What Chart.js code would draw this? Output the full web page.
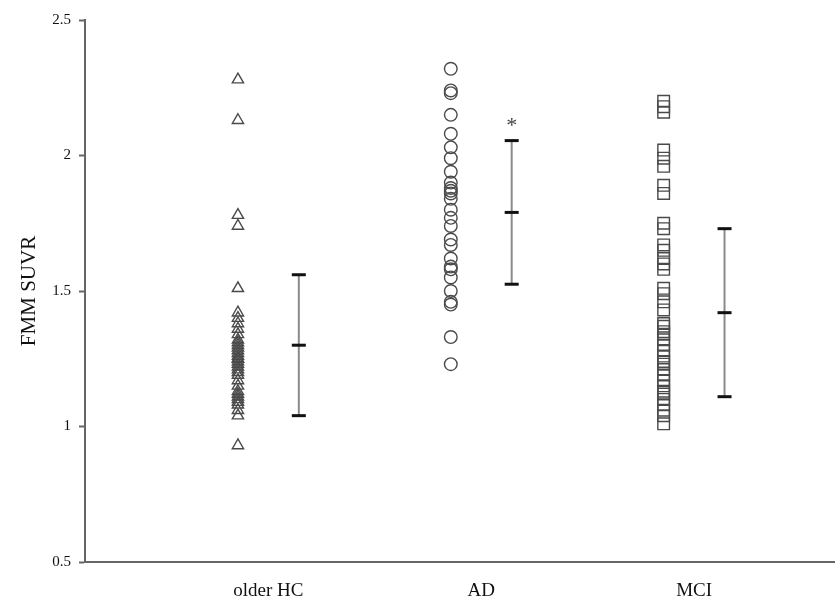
<!DOCTYPE html>
<html>
<head>
<meta charset="utf-8">
<script src="https://cdn.jsdelivr.net/npm/chart.js@4.4.0/dist/chart.umd.js"></script>
<style>
    html, body { margin: 0; padding: 0; background: #fff; }
    #wrap { width: 835px; height: 598px; }
</style>
</head>
<body>
<div id="wrap"><canvas id="chart"></canvas></div>
<script>
// categories and their position on the x axis
const categories = ['older HC', 'AD', 'MCI'];
const categoryX = [1, 2, 3];

// FMM SUVR of each subject
const hcValues = [2.28, 2.13, 1.78, 1.74, 1.51, 1.42, 1.40, 1.38, 1.36, 1.34, 1.32, 1.31, 1.30, 1.29,
    1.28, 1.27, 1.26, 1.25, 1.25, 1.24, 1.23, 1.22, 1.21, 1.20, 1.19, 1.17, 1.15, 1.13, 1.12, 1.11,
    1.10, 1.09, 1.08, 1.06, 1.04, 0.93];
const adValues = [2.32, 2.24, 2.23, 2.15, 2.08, 2.03, 1.99, 1.94, 1.90, 1.88, 1.87, 1.86, 1.84, 1.80,
    1.77, 1.74, 1.69, 1.67, 1.62, 1.59, 1.58, 1.55, 1.50, 1.46, 1.45, 1.33, 1.23];
const mciValues = [2.20, 2.18, 2.16, 2.02, 1.99, 1.96, 1.89, 1.86, 1.75, 1.73, 1.67, 1.65, 1.62, 1.60,
    1.58, 1.51, 1.49, 1.46, 1.43, 1.38, 1.37, 1.35, 1.34, 1.32, 1.30, 1.28, 1.26, 1.24, 1.23, 1.21,
    1.19, 1.17, 1.15, 1.13, 1.12, 1.10, 1.08, 1.06, 1.04, 1.01];

// mean and SD of each group
const groupMeans = [1.30, 1.79, 1.42];
const groupSD = [0.26, 0.265, 0.31];

// y axis ticks
const yTicks = [0.5, 1, 1.5, 2, 2.5];

const SERIF = "'Liberation Serif', 'DejaVu Serif', serif";
const SHIFT = 0.143; // points left of the category, error bar right of it

function column(values, i) {
    return values.map(v => ({ x: categoryX[i] - SHIFT, y: v }));
}

function errorBar(i) {
    const x = categoryX[i] + SHIFT;
    return [
        { x: x, y: groupMeans[i] - groupSD[i] },
        { x: x, y: groupMeans[i] },
        { x: x, y: groupMeans[i] + groupSD[i] }
    ];
}

const markerStyle = {
    showLine: false,
    backgroundColor: 'rgba(0,0,0,0)',
    borderColor: '#4a4a4a',
    borderWidth: 1.4,
    pointHoverRadius: 0
};

const barStyle = {
    showLine: true,
    borderColor: '#8a8a8a',
    borderWidth: 2,
    pointStyle: 'line',
    pointRadius: 7,
    pointBorderColor: '#111',
    pointBorderWidth: 3,
    pointBackgroundColor: '#111',
    fill: false
};

// asterisk over the AD error bar
const asteriskPlugin = {
    id: 'asterisk',
    afterDatasetsDraw(chart) {
        const xs = chart.scales.x, ys = chart.scales.y;
        const ctx = chart.ctx;
        ctx.save();
        ctx.fillStyle = '#444';
        ctx.font = '22px ' + SERIF;
        ctx.textAlign = 'center';
        ctx.textBaseline = 'middle';
        const top = groupMeans[1] + groupSD[1];
        ctx.fillText('*', xs.getPixelForValue(categoryX[1] + SHIFT), ys.getPixelForValue(top + 0.06) + 2);
        ctx.restore();
    }
};

new Chart(document.getElementById('chart'), {
    type: 'scatter',
    data: {
        datasets: [
            Object.assign({ data: column(hcValues, 0), pointStyle: 'triangle', pointRadius: 6.5 }, markerStyle),
            Object.assign({ data: column(adValues, 1), pointStyle: 'circle', pointRadius: 6.3 }, markerStyle),
            Object.assign({ data: column(mciValues, 2), pointStyle: 'rect', pointRadius: 8.2 }, markerStyle),
            Object.assign({ data: errorBar(0) }, barStyle),
            Object.assign({ data: errorBar(1) }, barStyle),
            Object.assign({ data: errorBar(2) }, barStyle)
        ]
    },
    options: {
        responsive: true,
        maintainAspectRatio: false,
        animation: false,
        layout: { autoPadding: false, padding: { top: 20, right: 0, left: 0, bottom: 0 } },
        plugins: {
            legend: { display: false },
            tooltip: { enabled: false }
        },
        scales: {
            x: {
                type: 'linear',
                min: 0.1385,
                max: 3.662,
                afterBuildTicks: scale => {
                    scale.ticks = categoryX.map(v => ({ value: v }));
                },
                afterFit: scale => { scale.height = 36; },
                ticks: {
                    color: '#111',
                    font: { family: SERIF, size: 19 },
                    padding: 10,
                    maxRotation: 0,
                    autoSkip: false,
                    callback: v => categories[categoryX.indexOf(v)] || ''
                },
                grid: { display: false },
                border: { display: true, color: '#666', width: 2 }
            },
            y: {
                type: 'linear',
                min: 0.5,
                max: 2.5,
                afterBuildTicks: scale => {
                    scale.ticks = yTicks.map(v => ({ value: v }));
                },
                afterFit: scale => { scale.width = 85; },
                title: {
                    display: true,
                    text: 'FMM SUVR',
                    color: '#111',
                    font: { family: SERIF, size: 21 },
                    padding: { top: 17, bottom: 0 }
                },
                ticks: {
                    color: '#111',
                    font: { family: SERIF, size: 15 },
                    padding: 8,
                    callback: v => String(v)
                },
                grid: {
                    display: true,
                    drawOnChartArea: false,
                    tickLength: 6,
                    tickWidth: 2,
                    tickColor: '#666'
                },
                border: { display: true, color: '#666', width: 2 }
            }
        }
    },
    plugins: [asteriskPlugin]
});
</script>
</body>
</html>
